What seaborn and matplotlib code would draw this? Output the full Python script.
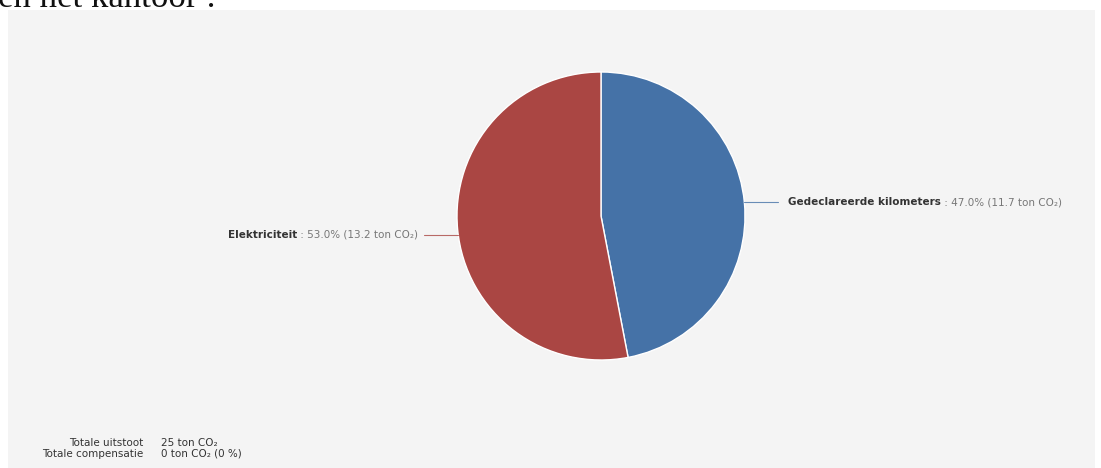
import matplotlib
matplotlib.use("Agg")
import matplotlib.pyplot as plt
import seaborn as sns
from matplotlib.patches import Rectangle
import numpy as np

sns.set_theme(style="white")
plt.rcParams['font.family'] = ['DejaVu Sans']

# ---- data ----
categories = ["Gedeclareerde kilometers", "Elektriciteit"]
tons = [11.7, 13.2]
percents = [47.0, 53.0]
colors = ["#4572A7", "#AA4643"]
line_colors = ["#4572A7", "#AA4643"]
summary_labels = ["Totale uitstoot", "Totale compensatie"]
summary_values = ["25 ton CO\u2082", "0 ton CO\u2082 (0 %)"]
heading = "en het kantoor :"

W, H = 1101, 468
fig = plt.figure(figsize=(W / 100, H / 100), dpi=100)
fig.patch.set_facecolor("white")

# grey panel
fig.patches.append(Rectangle((8 / W, 0), (1095 - 8) / W, (H - 10) / H,
                             transform=fig.transFigure, facecolor="#f4f4f4",
                             edgecolor="none", zorder=-5))

# cut-off heading
fig.text(-2 / W, 1 - 7 / H, heading, family="Liberation Serif", fontsize=25,
         color="#111111", va="baseline", ha="left")

# pie axes
cx, cy, r = 601, 216, 144
ax = fig.add_axes([(cx - r) / W, (H - cy - r) / H, 2 * r / W, 2 * r / H])
ax.set_zorder(2)
ax.set_facecolor("none")
wedges, _ = ax.pie(tons, colors=colors, startangle=90, counterclock=False,
                   wedgeprops=dict(edgecolor="white", linewidth=1.0))
ax.set_xlim(-1, 1)
ax.set_ylim(-1, 1)
ax.set_aspect("auto")
ax.axis("off")

fig.canvas.draw()
renderer = fig.canvas.get_renderer()

fs = 7.5
total = sum(tons)
angle = 90.0
for i, (cat, t, p) in enumerate(zip(categories, tons, percents)):
    span = 360.0 * t / total
    mid = np.deg2rad(angle - span / 2)
    angle -= span
    x0, y0 = np.cos(mid), np.sin(mid)
    side = 1 if x0 > 0 else -1
    ly = y0 if side > 0 else y0 - 0.035
    xe = side * np.sqrt(1 - ly ** 2)
    x1 = side * 1.23
    ax.plot([xe, x1], [ly, ly], color=line_colors[i],
            lw=0.8, alpha=0.8, clip_on=False)
    rest = f" : {p:.1f}% ({t:.1f} ton CO\u2082)"
    tx = side * 1.30
    if side > 0:
        tb = ax.text(tx, ly, cat, fontsize=fs, fontweight="bold", color="#333333",
                     ha="left", va="center", clip_on=False)
        bb = tb.get_window_extent(renderer)
        ax.annotate(rest, xy=(bb.x1, (bb.y0 + bb.y1) / 2), xycoords="figure pixels",
                    fontsize=fs, color="#777777", ha="left", va="center",
                    annotation_clip=False)
    else:
        tr = ax.text(-1.27, ly, rest, fontsize=fs, color="#777777",
                     ha="right", va="center", clip_on=False)
        bb = tr.get_window_extent(renderer)
        ax.annotate(cat, xy=(bb.x0, (bb.y0 + bb.y1) / 2), xycoords="figure pixels",
                    fontsize=fs, fontweight="bold", color="#333333", ha="right",
                    va="center", annotation_clip=False)

# summary
for j, (lab, val) in enumerate(zip(summary_labels, summary_values)):
    ypix = 443 + j * 11
    fig.text(143 / W, 1 - ypix / H, lab, fontsize=7.5, color="#333333",
             ha="right", va="center")
    fig.text(161 / W, 1 - ypix / H, val, fontsize=7.5, color="#333333",
             ha="left", va="center")

fig.savefig("out.png", dpi=100, facecolor=fig.get_facecolor())
